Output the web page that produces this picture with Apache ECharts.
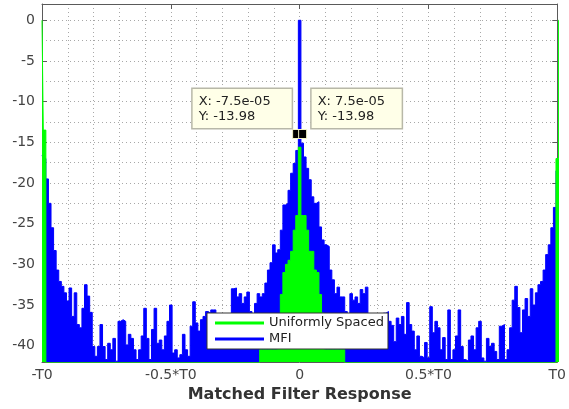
<!DOCTYPE html>
<html><head><meta charset="utf-8">
<script src="https://cdn.jsdelivr.net/npm/echarts@6/dist/echarts.min.js"></script>
<style>html,body{margin:0;padding:0;background:#fff}#c{width:569px;height:409px}</style>
</head><body><div id="c"></div>
<script>
// x positions are expressed in units of T0 (samples every 0.01*T0 from -T0 to T0)
const T0 = 0.00645; // seconds, used only to place the data tips
const sampleStart = -1;
const sampleStep = 0.01;

const xTickValues = [-1, -0.5, 0, 0.5, 1];
const xTickLabels = ['-T0', '-0.5*T0', '0', '0.5*T0', 'T0'];
const yTickValues = [-40, -35, -30, -25, -20, -15, -10, -5, 0];
const xGridValues = [-0.9,-0.8,-0.7,-0.6,-0.5,-0.4,-0.3,-0.2,-0.1,0,0.1,0.2,0.3,0.4,0.5,0.6,0.7,0.8,0.9];
const yGridValues = [-40,-37.5,-35,-32.5,-30,-27.5,-25,-22.5,-20,-17.5,-15,-12.5,-10,-7.5,-5,-2.5,0];

// MFI response (dB), one value per sample
const mfiDb = [
-16.6,-17.0,-19.5,-22.5,-25.5,-28.3,-30.7,-32.1,-32.7,-33.5,
-34.5,-32.9,-36.4,-33.5,-37.4,-37.8,-35.4,-32.5,-33.9,-35.9,
-40.1,-41.3,-40.1,-37.4,-40.1,-41.7,-39.7,-40.5,-39.1,-41.9,
-37.0,-36.8,-37.0,-39.9,-38.6,-39.1,-40.5,-41.7,-40.5,-38.8,
-35.4,-39.1,-41.7,-38.0,-35.4,-39.7,-39.3,-40.5,-38.8,-37.0,
-35.0,-40.9,-40.5,-41.5,-41.1,-38.6,-40.5,-41.3,-37.6,-34.6,
-37.2,-38.2,-36.8,-36.4,-35.8,-36.0,-35.6,-35.6,-37.5,-37.5,
-38.0,-37.0,-37.5,-38.0,-33.0,-32.9,-34.0,-33.6,-34.8,-34.0,
-33.4,-35.8,-37.0,-34.8,-33.6,-34.0,-33.6,-32.3,-30.7,-29.8,
-27.6,-28.6,-28.2,-25.8,-22.7,-22.5,-20.9,-18.8,-17.6,-16.0,
0,
-15.1,-16.8,-18.2,-19.6,-21.7,-22.5,-22.3,-25.4,-27.0,-27.6,
-27.8,-30.7,-31.9,-33.6,-32.8,-34.0,-34.0,-35.8,-37.0,-33.6,
-34.4,-34.0,-34.8,-33.1,-33.6,-32.8,-36.5,-37.5,-37.0,-37.5,
-38.0,-37.5,-36.0,-35.8,-37.0,-37.5,-39.5,-36.6,-37.4,-36.4,
-38.6,-34.7,-37.4,-38.2,-40.5,-38.8,-41.3,-41.5,-39.6,-41.5,
-35.2,-38.4,-37.0,-37.8,-40.5,-39.0,-41.7,-35.6,-41.7,-40.5,
-38.8,-35.6,-40.1,-41.7,-41.9,-39.3,-38.8,-40.5,-37.8,-37.0,
-41.5,-41.9,-39.1,-40.1,-39.7,-40.7,-41.7,-37.6,-37.4,-41.7,
-40.5,-37.8,-34.4,-32.7,-35.3,-38.4,-35.6,-34.2,-36.4,-33.0,
-35.0,-33.5,-32.5,-32.1,-30.7,-28.8,-27.6,-25.5,-23.0,-18.5
];

// Uniformly spaced response (dB) where it shows in front of MFI; -60 = hidden / below range
const uniformDb = [
0,-13.5,-60,-60,-60,-60,-60,-60,-60,-60,
-60,-60,-60,-60,-60,-60,-60,-60,-60,-60,
-60,-60,-60,-60,-60,-60,-60,-60,-60,-60,
-60,-60,-60,-60,-60,-60,-60,-60,-60,-60,
-60,-60,-60,-60,-60,-60,-60,-60,-60,-60,
-60,-60,-60,-60,-60,-60,-60,-60,-60,-60,
-60,-60,-60,-60,-60,-60,-60,-60,-60,-60,
-60,-60,-60,-60,-60,-60,-60,-60,-60,-60,
-60,-60,-60,-60,-60,-40.5,-40.5,-40.5,-40.5,-40.5,
-40.5,-40.5,-36.5,-33.7,-31.0,-30.0,-29.5,-28.4,-25.8,-24.0,
-15.6,
-24.0,-24.0,-25.8,-28.4,-28.4,-30.7,-31.0,-33.7,-36.0,-40.5,
-40.5,-40.5,-40.5,-40.5,-40.5,-40.5,-40.5,-60,-60,-60,
-60,-60,-60,-60,-60,-60,-60,-60,-60,-60,
-60,-60,-60,-60,-60,-60,-60,-60,-60,-60,
-60,-60,-60,-60,-60,-60,-60,-60,-60,-60,
-60,-60,-60,-60,-60,-60,-60,-60,-60,-60,
-60,-60,-60,-60,-60,-60,-60,-60,-60,-60,
-60,-60,-60,-60,-60,-60,-60,-60,-60,-60,
-60,-60,-60,-60,-60,-60,-60,-60,-60,-60,
-60,-60,-60,-60,-60,-60,-60,-60,-60,-17.0,
0
];

const tipX = [-7.5e-5, 7.5e-5];   // seconds
const tipY = [-13.98, -13.98];
const tipText = ['X: -7.5e-05\nY: -13.98', 'X: 7.5e-05\nY: -13.98'];

const FONT = 'DejaVu Sans';
const toPairs = arr => arr.map((v, i) => [sampleStart + i * sampleStep, v]);

function xLabel(v) {
  for (let i = 0; i < xTickValues.length; i++) if (Math.abs(v - xTickValues[i]) < 1e-9) return xTickLabels[i];
  return '';
}

const frameColor = '#5a5a5a';
const axisBase = {
  type: 'value',
  axisLine: { show: true, onZero: false, lineStyle: { color: frameColor, width: 1 } },
  splitLine: { show: false }
};
const gridLineStyle = { type: [1, 3], color: '#a8a8a8', width: 1 };

const chart = echarts.init(document.getElementById('c'), null, { renderer: 'canvas' });
chart.setOption({
  animation: false,
  backgroundColor: '#fff',
  grid: { left: 42, right: 9, top: 4, bottom: 47, containLabel: false },
  legend: {
    data: ['Uniformly Spaced', 'MFI'],
    orient: 'vertical', left: 207, top: 313,
    icon: 'rect', itemWidth: 49, itemHeight: 3, itemGap: 2,
    padding: [3, 4, 3, 8],
    backgroundColor: '#fff', borderColor: '#333', borderWidth: 1,
    textStyle: { fontFamily: FONT, fontSize: 13, color: '#222', lineHeight: 14 },
    selectedMode: false
  },
  xAxis: [
    Object.assign({}, axisBase, {
      min: -1, max: 1, position: 'bottom',
      axisTick: { show: true, inside: true, length: 5, customValues: xTickValues, lineStyle: { color: frameColor } },
      axisLabel: { show: true, customValues: xTickValues, formatter: xLabel, color: '#444', fontSize: 14, fontFamily: FONT, margin: 6 },
      name: 'Matched Filter Response', nameLocation: 'middle', nameGap: 22,
      nameTextStyle: { fontFamily: FONT, fontSize: 16, fontWeight: 'bold', color: '#333' }
    }),
    Object.assign({}, axisBase, {
      min: -1, max: 1, position: 'top',
      axisTick: { show: true, inside: true, length: 5, customValues: xTickValues, lineStyle: { color: frameColor } },
      axisLabel: { show: false }
    }),
    {
      type: 'value', min: -1, max: 1, position: 'bottom',
      axisLine: { show: false, onZero: false },
      axisTick: { show: false, customValues: xGridValues },
      axisLabel: { show: false },
      splitLine: { show: true, lineStyle: gridLineStyle }
    }
  ],
  yAxis: [
    Object.assign({}, axisBase, {
      min: -42, max: 2, position: 'left',
      axisTick: { show: true, inside: true, length: 5, customValues: yTickValues, lineStyle: { color: frameColor } },
      axisLabel: { show: true, customValues: yTickValues, color: '#444', fontSize: 14, fontFamily: FONT, margin: 7 }
    }),
    Object.assign({}, axisBase, {
      min: -42, max: 2, position: 'right',
      axisTick: { show: true, inside: true, length: 5, customValues: yTickValues, lineStyle: { color: frameColor } },
      axisLabel: { show: false }
    }),
    {
      type: 'value', min: -42, max: 2, position: 'left',
      axisLine: { show: false, onZero: false },
      axisTick: { show: false, customValues: yGridValues },
      axisLabel: { show: false },
      splitLine: { show: true, lineStyle: gridLineStyle }
    }
  ],
  series: [
    {
      name: 'MFI', type: 'line', xAxisIndex: 0, yAxisIndex: 0,
      data: toPairs(mfiDb), step: 'middle', symbol: 'none', showSymbol: false,
      color: '#0000ff',
      lineStyle: { color: '#0000ff', width: 1 },
      areaStyle: { color: '#0000ff', opacity: 1, origin: 'start' },
      z: 2
    },
    {
      name: 'Uniformly Spaced', type: 'line', xAxisIndex: 0, yAxisIndex: 0,
      data: toPairs(uniformDb), step: 'middle', symbol: 'none', showSymbol: false,
      color: '#00ff00',
      lineStyle: { color: '#00ff00', width: 1 },
      areaStyle: { color: '#00ff00', opacity: 1, origin: 'start' },
      z: 3,
      markPoint: {
        symbol: 'rect', symbolSize: [8, 9],
        itemStyle: { color: '#000', borderColor: '#f4f4c8', borderWidth: 1 },
        data: tipX.map((x, i) => ({
          coord: [x / T0, tipY[i]],
          label: {
            show: true, formatter: tipText[i], position: 'inside',
            align: 'left', verticalAlign: 'bottom',
            offset: i === 0 ? [-104, -6] : [9, -6],
            width: i === 0 ? 87 : 78,
            backgroundColor: '#ffffe8', borderColor: '#b8b8a8', borderWidth: 1.5,
            padding: [5, 6, 4, 6], color: '#222', fontSize: 13, lineHeight: 15, fontFamily: FONT
          }
        }))
      }
    }
  ]
});
</script>
</body></html>
